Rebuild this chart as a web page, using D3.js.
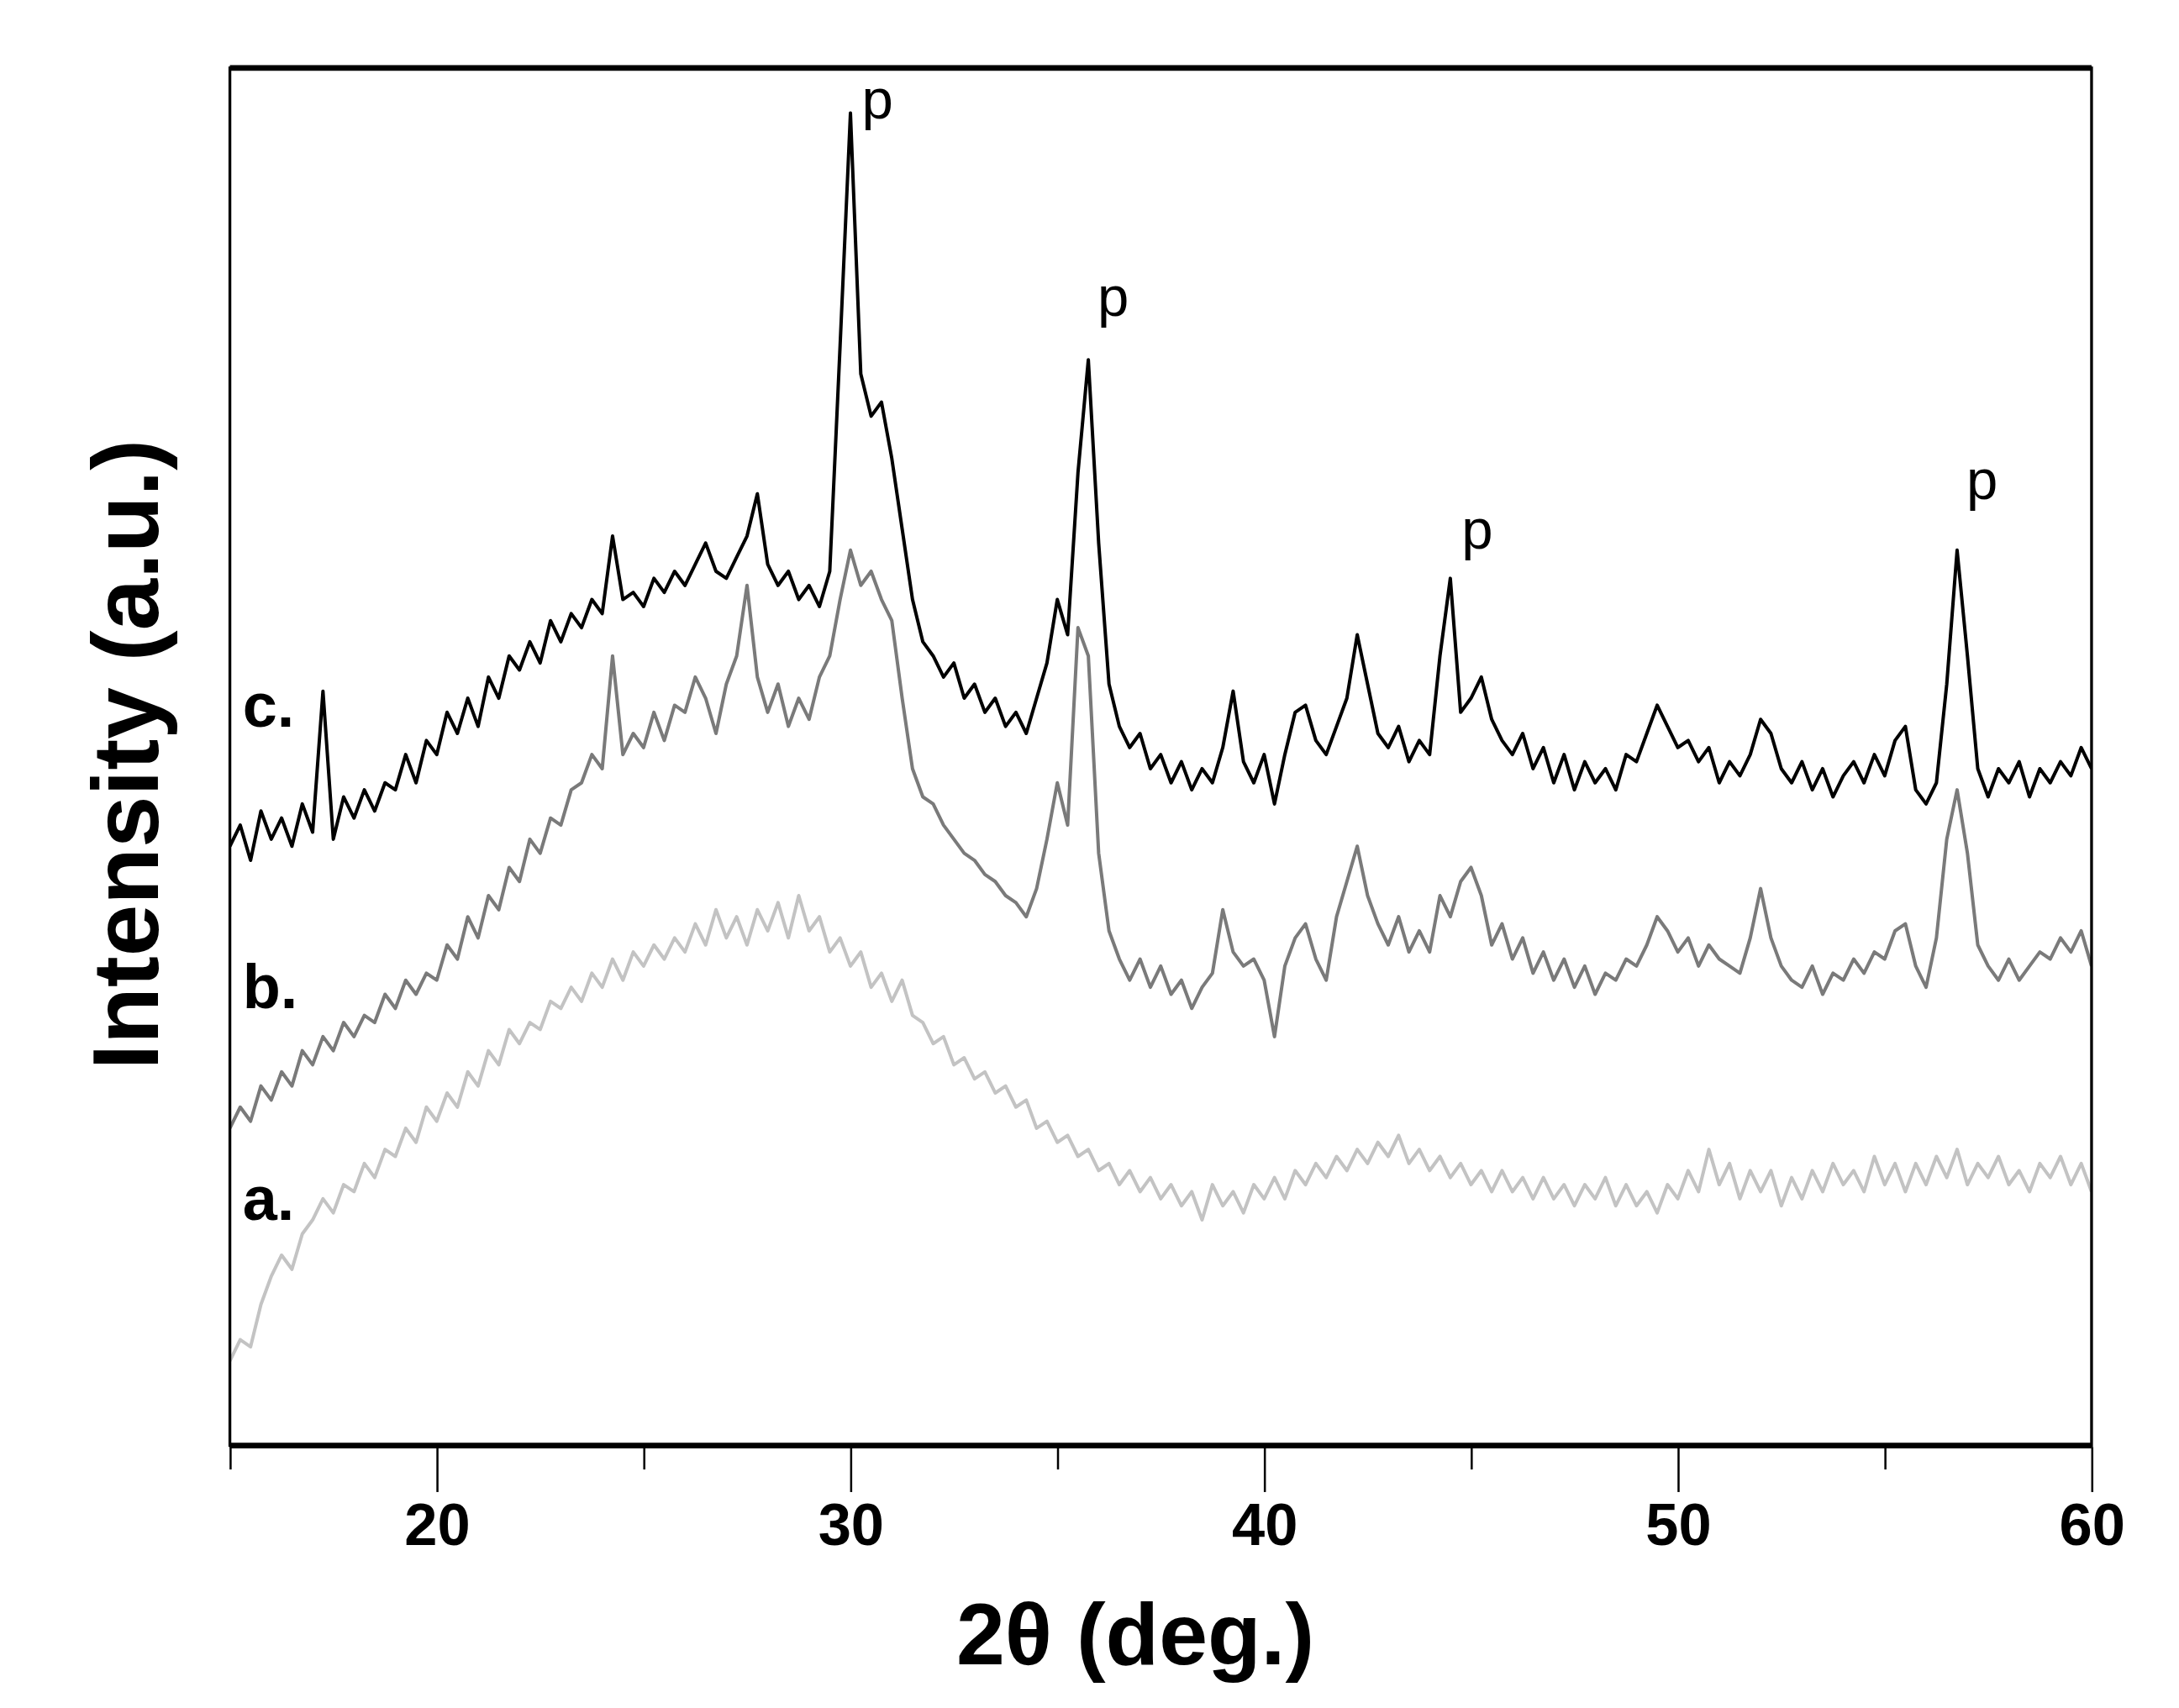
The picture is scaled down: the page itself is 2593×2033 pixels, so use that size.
<!DOCTYPE html>
<html>
<head>
<meta charset="utf-8">
<script src="https://cdn.jsdelivr.net/npm/d3@7"></script>
<style>
  html, body { margin: 0; background: #fff; }
  text { font-family: Arial, "Liberation Sans", sans-serif; }
</style>
</head>
<body>
<svg id="chart"></svg>
<script>
// 2theta grid: 15..60 step 0.25
const thetaStart = 15, thetaStep = 0.25;
const xTicks = [15, 20, 25, 30, 35, 40, 45, 50, 55, 60];
const xTickLabels = [20, 30, 40, 50, 60];

const seriesA = [60,75,70,100,120,135,125,150,160,175,165,185,180,200,190,210,205,225,215,240,230,250,240,265,255,280,270,295,285,300,295,315,310,325,315,335,325,345,330,350,340,355,345,360,350,370,355,380,360,375,355,380,365,385,360,390,365,375,350,360,340,350,325,335,315,330,305,300,285,290,270,275,260,265,250,255,240,245,225,230,215,220,205,210,195,200,185,195,180,190,175,185,170,180,160,185,170,180,165,185,175,190,175,195,185,200,190,205,195,210,200,215,205,220,200,210,195,205,190,200,185,195,180,195,180,190,175,190,175,185,170,185,175,190,170,185,170,180,165,185,175,195,180,210,185,200,175,195,180,195,170,190,175,195,180,200,185,195,180,205,185,200,180,200,185,205,190,210,185,200,190,205,185,195,180,200,190,205,185,200,180];
const seriesB = [225,240,230,255,245,265,255,280,270,290,280,300,290,305,300,320,310,330,320,335,330,355,345,375,360,390,380,410,400,430,420,445,440,465,470,490,480,560,490,505,495,520,500,525,520,545,530,505,540,560,610,545,520,540,510,530,515,545,560,600,635,610,620,600,585,530,480,460,455,440,430,420,415,405,400,390,385,375,395,430,470,440,580,560,420,365,345,330,345,325,340,320,330,310,325,335,380,350,340,345,330,290,340,360,370,345,330,375,400,425,390,370,355,375,350,365,350,390,375,400,410,390,355,370,345,360,335,350,330,345,325,340,320,335,330,345,340,355,375,365,350,360,340,355,345,340,335,360,395,360,340,330,325,340,320,335,330,345,335,350,345,365,370,340,325,360,430,465,420,355,340,330,345,330,340,350,345,360,350,365,340];
const seriesC = [425,440,415,450,430,445,425,455,435,535,430,460,445,465,450,470,465,490,470,500,490,520,505,530,510,545,530,560,550,570,555,585,570,590,580,600,590,645,600,605,595,615,605,620,610,625,640,620,615,630,645,675,625,610,620,600,610,595,620,780,945,760,730,740,700,650,600,570,560,545,555,530,540,520,530,510,520,505,530,555,600,575,690,770,640,540,510,495,505,480,490,470,485,465,480,470,495,535,485,470,490,455,490,520,525,500,490,510,530,575,540,505,495,510,485,500,490,560,615,520,530,545,515,500,490,505,480,495,470,490,465,485,470,480,465,490,485,505,525,510,495,500,485,495,470,485,475,490,515,505,480,470,485,465,480,460,475,485,470,490,475,500,510,465,455,470,540,635,560,480,460,480,470,485,460,480,470,485,475,495,480];

const curves = [
  { name: 'a.', values: seriesA, color: '#c3c3c3', labelY: 850 },
  { name: 'b.', values: seriesB, color: '#7a7a7a', labelY: 700 },
  { name: 'c.', values: seriesC, color: '#000000', labelY: 500 }
];
const peakLabels = [
  { x: 30.0, v: 945 },
  { x: 35.7, v: 805 },
  { x: 44.5, v: 640 },
  { x: 56.7, v: 675 }
];

// drawn in a 1545x1211 coordinate space, scaled up to the window
const W = 1545, H = 1211;
const margin = { left: 163, right: 62, top: 48, bottom: 186 };

const svg = d3.select('#chart')
  .attr('width', 2593)
  .attr('height', 2033)
  .attr('viewBox', [0, 0, W, H]);

const x = d3.scaleLinear().domain([15, 60]).range([margin.left, W - margin.right]);
const y = d3.scaleLinear().domain([0, 977]).range([H - margin.bottom, margin.top]);

const line = d3.line()
  .x((d, i) => x(thetaStart + i * thetaStep))
  .y(d => y(d));

const plot = svg.append('g');
plot.append('clipPath').attr('id', 'clip')
  .append('rect')
  .attr('x', x(15)).attr('y', y(977))
  .attr('width', x(60) - x(15)).attr('height', y(0) - y(977));

plot.selectAll('path.curve')
  .data(curves)
  .join('path')
  .classed('curve', true)
  .attr('clip-path', 'url(#clip)')
  .attr('d', d => line(d.values))
  .attr('fill', 'none')
  .attr('stroke', d => d.color)
  .attr('stroke-width', 2.4)
  .attr('stroke-linejoin', 'round');

// frame
const frame = svg.append('g');
frame.append('rect')
  .attr('x', x(15)).attr('y', y(977))
  .attr('width', x(60) - x(15)).attr('height', y(0) - y(977))
  .attr('fill', 'none').attr('stroke', '#000').attr('stroke-width', 2);
frame.append('line')
  .attr('x1', x(15)).attr('x2', x(60))
  .attr('y1', y(977)).attr('y2', y(977))
  .attr('stroke', '#000').attr('stroke-width', 4);
frame.append('line')
  .attr('x1', x(15)).attr('x2', x(60))
  .attr('y1', y(0)).attr('y2', y(0))
  .attr('stroke', '#000').attr('stroke-width', 4);

// x axis
const xAxis = d3.axisBottom(x)
  .tickValues(xTicks)
  .tickSize(16)
  .tickFormat(d => xTickLabels.includes(d) ? d : '');
const gx = svg.append('g')
  .attr('transform', `translate(0,${y(0) + 1})`)
  .call(xAxis);
gx.select('.domain').remove();
gx.selectAll('.tick line').attr('stroke', '#000').attr('stroke-width', 1.5);
gx.selectAll('.tick')
  .filter(d => xTickLabels.includes(d))
  .select('line').attr('y2', 32);
gx.selectAll('.tick text')
  .attr('y', 40)
  .attr('font-size', 42)
  .attr('font-weight', 'bold')
  .attr('fill', '#000');

// axis titles
svg.append('text')
  .attr('x', 805).attr('y', 1180)
  .attr('text-anchor', 'middle')
  .attr('font-size', 62)
  .attr('font-weight', 'bold')
  .text('2θ (deg.)');
svg.append('text')
  .attr('transform', 'translate(112,535) rotate(-90)')
  .attr('text-anchor', 'middle')
  .attr('font-size', 66)
  .attr('font-weight', 'bold')
  .text('Intensity (a.u.)');

// curve labels
svg.selectAll('text.curve-label')
  .data(curves)
  .join('text')
  .classed('curve-label', true)
  .attr('x', 172)
  .attr('y', d => d.labelY + 15)
  .attr('font-size', 44)
  .attr('font-weight', 'bold')
  .text(d => d.name);

// peak markers
svg.selectAll('text.peak')
  .data(peakLabels)
  .join('text')
  .classed('peak', true)
  .attr('x', d => x(d.x) + 8)
  .attr('y', d => y(d.v) + 4)
  .attr('font-size', 40)
  .text('p');
</script>
</body>
</html>
